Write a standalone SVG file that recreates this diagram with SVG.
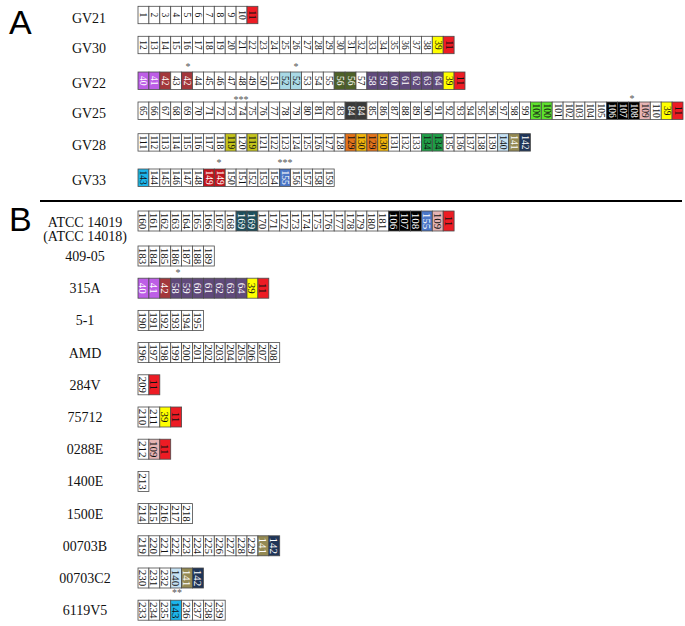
<svg xmlns="http://www.w3.org/2000/svg" width="685" height="626" viewBox="0 0 685 626">
<style>
rect{stroke:#4a4a4a;stroke-width:0.8;fill:#fff}
.r{fill:#ed1c24}.y{fill:#ffff00}.p1{fill:#bd5ee6}.dr{fill:#a3373b}.lb{fill:#a9d9e6}.og{fill:#4e6128}.pu{fill:#604a7b}.dg{fill:#3a3a3a}.gr{fill:#5ee22e}.bk{fill:#000}.pk{fill:#e6b4b4}.ol{fill:#c4c41c}.or{fill:#e3731a}.go{fill:#f2b50c}.gn{fill:#1f9e47}.lc{fill:#c6e2f4}.kh{fill:#948a54}.nv{fill:#1f3558}.cy{fill:#1cb5ea}.cr{fill:#c0141c}.bl{fill:#4a76c6}.tl{fill:#1e4e5c}
.t text{font-family:"Liberation Serif",serif;font-size:9.5px;text-anchor:middle;dominant-baseline:central;fill:#111}
.tb text{font-size:11px}
.t .w{fill:#fff}
.lab{font-family:"Liberation Serif",serif;font-size:14px;text-anchor:middle;fill:#111}
.big{font-family:"Liberation Sans",sans-serif;font-size:34px;fill:#000}
.ast{font-family:"Liberation Serif",serif;font-size:10px;fill:#555;text-anchor:middle}
</style>
<text class="big" x="9" y="34">A</text>
<text class="big" x="9" y="231">B</text>
<g id="connectors"><line x1="40" y1="201" x2="682" y2="201" stroke="#000" stroke-width="2"/></g>
<g id="asterisks">
<text class="ast" x="188" y="70">*</text>
<text class="ast" x="296" y="70">*</text>
<text class="ast" x="241" y="103">***</text>
<text class="ast" x="632" y="102">*</text>
<text class="ast" x="219" y="166">*</text>
<text class="ast" x="285" y="166">***</text>
<text class="ast" x="178" y="276">*</text>
<text class="ast" x="177" y="596">**</text>
</g>
<g id="labels">
<text class="lab" x="89" y="22.5">GV21</text>
<text class="lab" x="89" y="52.5">GV30</text>
<text class="lab" x="89" y="88">GV22</text>
<text class="lab" x="89" y="118">GV25</text>
<text class="lab" x="89" y="149.7">GV28</text>
<text class="lab" x="89" y="185">GV33</text>
<text class="lab" x="85" y="227">ATCC 14019</text>
<text class="lab" x="85" y="241">(ATCC 14018)</text>
<text class="lab" x="85" y="261">409-05</text>
<text class="lab" x="85" y="293.2">315A</text>
<text class="lab" x="85" y="325.4">5-1</text>
<text class="lab" x="85" y="357.6">AMD</text>
<text class="lab" x="85" y="389.8">284V</text>
<text class="lab" x="85" y="422">75712</text>
<text class="lab" x="85" y="454.2">0288E</text>
<text class="lab" x="85" y="486.4">1400E</text>
<text class="lab" x="85" y="518.6">1500E</text>
<text class="lab" x="85" y="550.8">00703B</text>
<text class="lab" x="85" y="583">00703C2</text>
<text class="lab" x="85" y="615.2">6119V5</text>
</g>

<g id="GV21" class="t" transform="translate(138,6.3)">
<rect x="0" width="10.9" height="17.4"/><rect x="10.9" width="10.9" height="17.4"/><rect x="21.8" width="10.9" height="17.4"/><rect x="32.7" width="10.9" height="17.4"/><rect x="43.6" width="10.9" height="17.4"/><rect x="54.5" width="10.9" height="17.4"/><rect x="65.4" width="10.9" height="17.4"/><rect x="76.3" width="10.9" height="17.4"/><rect x="87.2" width="10.9" height="17.4"/><rect x="98.1" width="10.9" height="17.4"/><rect class="r" x="109" width="10.9" height="17.4"/>
<g transform="rotate(90)">
<text x="8.7" y="-5.45">1</text><text x="8.7" y="-16.35">2</text><text x="8.7" y="-27.25">3</text><text x="8.7" y="-38.15">4</text><text x="8.7" y="-49.05">5</text><text x="8.7" y="-59.95">6</text><text x="8.7" y="-70.85">7</text><text x="8.7" y="-81.75">8</text><text x="8.7" y="-92.65">9</text><text x="8.7" y="-103.55">10</text><text x="8.7" y="-114.45">11</text>
</g></g>

<g id="GV30" class="t" transform="translate(138,36.3)">
<rect x="0" width="10.9" height="17.4"/><rect x="10.9" width="10.9" height="17.4"/><rect x="21.8" width="10.9" height="17.4"/><rect x="32.7" width="10.9" height="17.4"/><rect x="43.6" width="10.9" height="17.4"/><rect x="54.5" width="10.9" height="17.4"/><rect x="65.4" width="10.9" height="17.4"/><rect x="76.3" width="10.9" height="17.4"/><rect x="87.2" width="10.9" height="17.4"/><rect x="98.1" width="10.9" height="17.4"/><rect x="109" width="10.9" height="17.4"/><rect x="119.9" width="10.9" height="17.4"/><rect x="130.8" width="10.9" height="17.4"/><rect x="141.7" width="10.9" height="17.4"/><rect x="152.6" width="10.9" height="17.4"/><rect x="163.5" width="10.9" height="17.4"/><rect x="174.4" width="10.9" height="17.4"/><rect x="185.3" width="10.9" height="17.4"/><rect x="196.2" width="10.9" height="17.4"/><rect x="207.1" width="10.9" height="17.4"/><rect x="218" width="10.9" height="17.4"/><rect x="228.9" width="10.9" height="17.4"/><rect x="239.8" width="10.9" height="17.4"/><rect x="250.7" width="10.9" height="17.4"/><rect x="261.6" width="10.9" height="17.4"/><rect x="272.5" width="10.9" height="17.4"/><rect x="283.4" width="10.9" height="17.4"/><rect class="y" x="294.3" width="10.9" height="17.4"/><rect class="r" x="305.2" width="10.9" height="17.4"/>
<g transform="rotate(90)">
<text x="8.7" y="-5.45">12</text><text x="8.7" y="-16.35">13</text><text x="8.7" y="-27.25">14</text><text x="8.7" y="-38.15">15</text><text x="8.7" y="-49.05">16</text><text x="8.7" y="-59.95">17</text><text x="8.7" y="-70.85">18</text><text x="8.7" y="-81.75">19</text><text x="8.7" y="-92.65">20</text><text x="8.7" y="-103.55">21</text><text x="8.7" y="-114.45">22</text><text x="8.7" y="-125.35">23</text><text x="8.7" y="-136.25">24</text><text x="8.7" y="-147.15">25</text><text x="8.7" y="-158.05">26</text><text x="8.7" y="-168.95">27</text><text x="8.7" y="-179.85">28</text><text x="8.7" y="-190.75">29</text><text x="8.7" y="-201.65">30</text><text x="8.7" y="-212.55">31</text><text x="8.7" y="-223.45">32</text><text x="8.7" y="-234.35">33</text><text x="8.7" y="-245.25">34</text><text x="8.7" y="-256.15">35</text><text x="8.7" y="-267.05">36</text><text x="8.7" y="-277.95">37</text><text x="8.7" y="-288.85">38</text><text x="8.7" y="-299.75">39</text><text x="8.7" y="-310.65">11</text>
</g></g>

<g id="GV22" class="t" transform="translate(138,72)">
<rect class="p1" x="0" width="10.9" height="17.4"/><rect class="p1" x="10.9" width="10.9" height="17.4"/><rect class="dr" x="21.8" width="10.9" height="17.4"/><rect x="32.7" width="10.9" height="17.4"/><rect class="dr" x="43.6" width="10.9" height="17.4"/><rect x="54.5" width="10.9" height="17.4"/><rect x="65.4" width="10.9" height="17.4"/><rect x="76.3" width="10.9" height="17.4"/><rect x="87.2" width="10.9" height="17.4"/><rect x="98.1" width="10.9" height="17.4"/><rect x="109" width="10.9" height="17.4"/><rect x="119.9" width="10.9" height="17.4"/><rect x="130.8" width="10.9" height="17.4"/><rect class="lb" x="141.7" width="10.9" height="17.4"/><rect class="lb" x="152.6" width="10.9" height="17.4"/><rect x="163.5" width="10.9" height="17.4"/><rect x="174.4" width="10.9" height="17.4"/><rect x="185.3" width="10.9" height="17.4"/><rect class="og" x="196.2" width="10.9" height="17.4"/><rect class="og" x="207.1" width="10.9" height="17.4"/><rect x="218" width="10.9" height="17.4"/><rect class="pu" x="228.9" width="10.9" height="17.4"/><rect class="pu" x="239.8" width="10.9" height="17.4"/><rect class="pu" x="250.7" width="10.9" height="17.4"/><rect class="pu" x="261.6" width="10.9" height="17.4"/><rect class="pu" x="272.5" width="10.9" height="17.4"/><rect class="pu" x="283.4" width="10.9" height="17.4"/><rect class="pu" x="294.3" width="10.9" height="17.4"/><rect class="y" x="305.2" width="10.9" height="17.4"/><rect class="r" x="316.1" width="10.9" height="17.4"/>
<g transform="rotate(90)">
<text class="w" x="8.7" y="-5.45">40</text><text class="w" x="8.7" y="-16.35">41</text><text class="w" x="8.7" y="-27.25">42</text><text x="8.7" y="-38.15">43</text><text class="w" x="8.7" y="-49.05">42</text><text x="8.7" y="-59.95">44</text><text x="8.7" y="-70.85">45</text><text x="8.7" y="-81.75">46</text><text x="8.7" y="-92.65">47</text><text x="8.7" y="-103.55">48</text><text x="8.7" y="-114.45">49</text><text x="8.7" y="-125.35">50</text><text x="8.7" y="-136.25">51</text><text x="8.7" y="-147.15">52</text><text x="8.7" y="-158.05">52</text><text x="8.7" y="-168.95">53</text><text x="8.7" y="-179.85">54</text><text x="8.7" y="-190.75">55</text><text class="w" x="8.7" y="-201.65">56</text><text class="w" x="8.7" y="-212.55">56</text><text x="8.7" y="-223.45">57</text><text class="w" x="8.7" y="-234.35">58</text><text class="w" x="8.7" y="-245.25">59</text><text class="w" x="8.7" y="-256.15">60</text><text class="w" x="8.7" y="-267.05">61</text><text class="w" x="8.7" y="-277.95">62</text><text class="w" x="8.7" y="-288.85">63</text><text class="w" x="8.7" y="-299.75">64</text><text x="8.7" y="-310.65">39</text><text x="8.7" y="-321.55">11</text>
</g></g>

<g id="GV25" class="t" transform="translate(138,102)">
<rect x="0" width="10.9" height="17.4"/><rect x="10.9" width="10.9" height="17.4"/><rect x="21.8" width="10.9" height="17.4"/><rect x="32.7" width="10.9" height="17.4"/><rect x="43.6" width="10.9" height="17.4"/><rect x="54.5" width="10.9" height="17.4"/><rect x="65.4" width="10.9" height="17.4"/><rect x="76.3" width="10.9" height="17.4"/><rect x="87.2" width="10.9" height="17.4"/><rect x="98.1" width="10.9" height="17.4"/><rect x="109" width="10.9" height="17.4"/><rect x="119.9" width="10.9" height="17.4"/><rect x="130.8" width="10.9" height="17.4"/><rect x="141.7" width="10.9" height="17.4"/><rect x="152.6" width="10.9" height="17.4"/><rect x="163.5" width="10.9" height="17.4"/><rect x="174.4" width="10.9" height="17.4"/><rect x="185.3" width="10.9" height="17.4"/><rect x="196.2" width="10.9" height="17.4"/><rect class="dg" x="207.1" width="10.9" height="17.4"/><rect class="dg" x="218" width="10.9" height="17.4"/><rect x="228.9" width="10.9" height="17.4"/><rect x="239.8" width="10.9" height="17.4"/><rect x="250.7" width="10.9" height="17.4"/><rect x="261.6" width="10.9" height="17.4"/><rect x="272.5" width="10.9" height="17.4"/><rect x="283.4" width="10.9" height="17.4"/><rect x="294.3" width="10.9" height="17.4"/><rect x="305.2" width="10.9" height="17.4"/><rect x="316.1" width="10.9" height="17.4"/><rect x="327" width="10.9" height="17.4"/><rect x="337.9" width="10.9" height="17.4"/><rect x="348.8" width="10.9" height="17.4"/><rect x="359.7" width="10.9" height="17.4"/><rect x="370.6" width="10.9" height="17.4"/><rect x="381.5" width="10.9" height="17.4"/><rect class="gr" x="392.4" width="10.9" height="17.4"/><rect class="gr" x="403.3" width="10.9" height="17.4"/><rect x="414.2" width="10.9" height="17.4"/><rect x="425.1" width="10.9" height="17.4"/><rect x="436" width="10.9" height="17.4"/><rect x="446.9" width="10.9" height="17.4"/><rect x="457.8" width="10.9" height="17.4"/><rect class="bk" x="468.7" width="10.9" height="17.4"/><rect class="bk" x="479.6" width="10.9" height="17.4"/><rect class="bk" x="490.5" width="10.9" height="17.4"/><rect class="pk" x="501.4" width="10.9" height="17.4"/><rect x="512.3" width="10.9" height="17.4"/><rect class="y" x="523.2" width="10.9" height="17.4"/><rect class="r" x="534.1" width="10.9" height="17.4"/>
<g transform="rotate(90)">
<text x="8.7" y="-5.45">65</text><text x="8.7" y="-16.35">66</text><text x="8.7" y="-27.25">67</text><text x="8.7" y="-38.15">68</text><text x="8.7" y="-49.05">69</text><text x="8.7" y="-59.95">70</text><text x="8.7" y="-70.85">71</text><text x="8.7" y="-81.75">72</text><text x="8.7" y="-92.65">73</text><text x="8.7" y="-103.55">74</text><text x="8.7" y="-114.45">75</text><text x="8.7" y="-125.35">76</text><text x="8.7" y="-136.25">77</text><text x="8.7" y="-147.15">78</text><text x="8.7" y="-158.05">79</text><text x="8.7" y="-168.95">80</text><text x="8.7" y="-179.85">81</text><text x="8.7" y="-190.75">82</text><text x="8.7" y="-201.65">83</text><text class="w" x="8.7" y="-212.55">84</text><text class="w" x="8.7" y="-223.45">84</text><text x="8.7" y="-234.35">85</text><text x="8.7" y="-245.25">86</text><text x="8.7" y="-256.15">87</text><text x="8.7" y="-267.05">88</text><text x="8.7" y="-277.95">89</text><text x="8.7" y="-288.85">90</text><text x="8.7" y="-299.75">91</text><text x="8.7" y="-310.65">92</text><text x="8.7" y="-321.55">93</text><text x="8.7" y="-332.45">94</text><text x="8.7" y="-343.35">95</text><text x="8.7" y="-354.25">96</text><text x="8.7" y="-365.15">97</text><text x="8.7" y="-376.05">98</text><text x="8.7" y="-386.95">99</text><text x="8.7" y="-397.85">100</text><text x="8.7" y="-408.75">100</text><text x="8.7" y="-419.65">101</text><text x="8.7" y="-430.55">102</text><text x="8.7" y="-441.45">103</text><text x="8.7" y="-452.35">104</text><text x="8.7" y="-463.25">105</text><text class="w" x="8.7" y="-474.15">106</text><text class="w" x="8.7" y="-485.05">107</text><text class="w" x="8.7" y="-495.95">108</text><text x="8.7" y="-506.85">109</text><text x="8.7" y="-517.75">110</text><text x="8.7" y="-528.65">39</text><text x="8.7" y="-539.55">11</text>
</g></g>

<g id="GV28" class="t" transform="translate(138,133.7)">
<rect x="0" width="10.9" height="17.4"/><rect x="10.9" width="10.9" height="17.4"/><rect x="21.8" width="10.9" height="17.4"/><rect x="32.7" width="10.9" height="17.4"/><rect x="43.6" width="10.9" height="17.4"/><rect x="54.5" width="10.9" height="17.4"/><rect x="65.4" width="10.9" height="17.4"/><rect x="76.3" width="10.9" height="17.4"/><rect class="ol" x="87.2" width="10.9" height="17.4"/><rect x="98.1" width="10.9" height="17.4"/><rect class="ol" x="109" width="10.9" height="17.4"/><rect x="119.9" width="10.9" height="17.4"/><rect x="130.8" width="10.9" height="17.4"/><rect x="141.7" width="10.9" height="17.4"/><rect x="152.6" width="10.9" height="17.4"/><rect x="163.5" width="10.9" height="17.4"/><rect x="174.4" width="10.9" height="17.4"/><rect x="185.3" width="10.9" height="17.4"/><rect x="196.2" width="10.9" height="17.4"/><rect class="or" x="207.1" width="10.9" height="17.4"/><rect class="go" x="218" width="10.9" height="17.4"/><rect class="or" x="228.9" width="10.9" height="17.4"/><rect class="go" x="239.8" width="10.9" height="17.4"/><rect x="250.7" width="10.9" height="17.4"/><rect x="261.6" width="10.9" height="17.4"/><rect x="272.5" width="10.9" height="17.4"/><rect class="gn" x="283.4" width="10.9" height="17.4"/><rect class="gn" x="294.3" width="10.9" height="17.4"/><rect x="305.2" width="10.9" height="17.4"/><rect x="316.1" width="10.9" height="17.4"/><rect x="327" width="10.9" height="17.4"/><rect x="337.9" width="10.9" height="17.4"/><rect x="348.8" width="10.9" height="17.4"/><rect class="lc" x="359.7" width="10.9" height="17.4"/><rect class="kh" x="370.6" width="10.9" height="17.4"/><rect class="nv" x="381.5" width="10.9" height="17.4"/>
<g transform="rotate(90)">
<text x="8.7" y="-5.45">111</text><text x="8.7" y="-16.35">112</text><text x="8.7" y="-27.25">113</text><text x="8.7" y="-38.15">114</text><text x="8.7" y="-49.05">115</text><text x="8.7" y="-59.95">116</text><text x="8.7" y="-70.85">117</text><text x="8.7" y="-81.75">118</text><text x="8.7" y="-92.65">119</text><text x="8.7" y="-103.55">120</text><text x="8.7" y="-114.45">119</text><text x="8.7" y="-125.35">121</text><text x="8.7" y="-136.25">122</text><text x="8.7" y="-147.15">123</text><text x="8.7" y="-158.05">124</text><text x="8.7" y="-168.95">125</text><text x="8.7" y="-179.85">126</text><text x="8.7" y="-190.75">127</text><text x="8.7" y="-201.65">128</text><text x="8.7" y="-212.55">129</text><text x="8.7" y="-223.45">130</text><text x="8.7" y="-234.35">129</text><text x="8.7" y="-245.25">130</text><text x="8.7" y="-256.15">131</text><text x="8.7" y="-267.05">132</text><text x="8.7" y="-277.95">133</text><text x="8.7" y="-288.85">134</text><text x="8.7" y="-299.75">134</text><text x="8.7" y="-310.65">135</text><text x="8.7" y="-321.55">136</text><text x="8.7" y="-332.45">137</text><text x="8.7" y="-343.35">138</text><text x="8.7" y="-354.25">139</text><text x="8.7" y="-365.15">140</text><text class="w" x="8.7" y="-376.05">141</text><text class="w" x="8.7" y="-386.95">142</text>
</g></g>

<g id="GV33" class="t" transform="translate(138,169)">
<rect class="cy" x="0" width="10.9" height="17.4"/><rect x="10.9" width="10.9" height="17.4"/><rect x="21.8" width="10.9" height="17.4"/><rect x="32.7" width="10.9" height="17.4"/><rect x="43.6" width="10.9" height="17.4"/><rect x="54.5" width="10.9" height="17.4"/><rect class="cr" x="65.4" width="10.9" height="17.4"/><rect class="cr" x="76.3" width="10.9" height="17.4"/><rect x="87.2" width="10.9" height="17.4"/><rect x="98.1" width="10.9" height="17.4"/><rect x="109" width="10.9" height="17.4"/><rect x="119.9" width="10.9" height="17.4"/><rect x="130.8" width="10.9" height="17.4"/><rect class="bl" x="141.7" width="10.9" height="17.4"/><rect x="152.6" width="10.9" height="17.4"/><rect x="163.5" width="10.9" height="17.4"/><rect x="174.4" width="10.9" height="17.4"/><rect x="185.3" width="10.9" height="17.4"/>
<g transform="rotate(90)">
<text x="8.7" y="-5.45">143</text><text x="8.7" y="-16.35">144</text><text x="8.7" y="-27.25">145</text><text x="8.7" y="-38.15">146</text><text x="8.7" y="-49.05">147</text><text x="8.7" y="-59.95">148</text><text class="w" x="8.7" y="-70.85">149</text><text class="w" x="8.7" y="-81.75">149</text><text x="8.7" y="-92.65">150</text><text x="8.7" y="-103.55">151</text><text x="8.7" y="-114.45">152</text><text x="8.7" y="-125.35">153</text><text x="8.7" y="-136.25">154</text><text class="w" x="8.7" y="-147.15">155</text><text x="8.7" y="-158.05">156</text><text x="8.7" y="-168.95">157</text><text x="8.7" y="-179.85">158</text><text x="8.7" y="-190.75">159</text>
</g></g>

<g id="ATCC14019" class="t tb" transform="translate(138,211)">
<rect x="0" width="10.9" height="20"/><rect x="10.9" width="10.9" height="20"/><rect x="21.8" width="10.9" height="20"/><rect x="32.7" width="10.9" height="20"/><rect x="43.6" width="10.9" height="20"/><rect x="54.5" width="10.9" height="20"/><rect x="65.4" width="10.9" height="20"/><rect x="76.3" width="10.9" height="20"/><rect x="87.2" width="10.9" height="20"/><rect class="tl" x="98.1" width="10.9" height="20"/><rect class="tl" x="109" width="10.9" height="20"/><rect x="119.9" width="10.9" height="20"/><rect x="130.8" width="10.9" height="20"/><rect x="141.7" width="10.9" height="20"/><rect x="152.6" width="10.9" height="20"/><rect x="163.5" width="10.9" height="20"/><rect x="174.4" width="10.9" height="20"/><rect x="185.3" width="10.9" height="20"/><rect x="196.2" width="10.9" height="20"/><rect x="207.1" width="10.9" height="20"/><rect x="218" width="10.9" height="20"/><rect x="228.9" width="10.9" height="20"/><rect x="239.8" width="10.9" height="20"/><rect class="bk" x="250.7" width="10.9" height="20"/><rect class="bk" x="261.6" width="10.9" height="20"/><rect class="bk" x="272.5" width="10.9" height="20"/><rect class="bl" x="283.4" width="10.9" height="20"/><rect class="pk" x="294.3" width="10.9" height="20"/><rect class="r" x="305.2" width="10.9" height="20"/>
<g transform="rotate(90)">
<text x="10" y="-5.45">160</text><text x="10" y="-16.35">161</text><text x="10" y="-27.25">162</text><text x="10" y="-38.15">163</text><text x="10" y="-49.05">164</text><text x="10" y="-59.95">165</text><text x="10" y="-70.85">166</text><text x="10" y="-81.75">167</text><text x="10" y="-92.65">168</text><text class="w" x="10" y="-103.55">169</text><text class="w" x="10" y="-114.45">169</text><text x="10" y="-125.35">170</text><text x="10" y="-136.25">171</text><text x="10" y="-147.15">172</text><text x="10" y="-158.05">173</text><text x="10" y="-168.95">174</text><text x="10" y="-179.85">175</text><text x="10" y="-190.75">176</text><text x="10" y="-201.65">177</text><text x="10" y="-212.55">178</text><text x="10" y="-223.45">179</text><text x="10" y="-234.35">180</text><text x="10" y="-245.25">181</text><text class="w" x="10" y="-256.15">106</text><text class="w" x="10" y="-267.05">107</text><text class="w" x="10" y="-277.95">108</text><text class="w" x="10" y="-288.85">155</text><text x="10" y="-299.75">109</text><text x="10" y="-310.65">11</text>
</g></g>

<g id="s409-05" class="t tb" transform="translate(138,246)">
<rect x="0" width="10.9" height="20"/><rect x="10.9" width="10.9" height="20"/><rect x="21.8" width="10.9" height="20"/><rect x="32.7" width="10.9" height="20"/><rect x="43.6" width="10.9" height="20"/><rect x="54.5" width="10.9" height="20"/><rect x="65.4" width="10.9" height="20"/>
<g transform="rotate(90)">
<text x="10" y="-5.45">183</text><text x="10" y="-16.35">184</text><text x="10" y="-27.25">185</text><text x="10" y="-38.15">186</text><text x="10" y="-49.05">187</text><text x="10" y="-59.95">188</text><text x="10" y="-70.85">189</text>
</g></g>

<g id="s315A" class="t tb" transform="translate(138,278.2)">
<rect class="p1" x="0" width="10.9" height="20"/><rect class="p1" x="10.9" width="10.9" height="20"/><rect class="dr" x="21.8" width="10.9" height="20"/><rect class="pu" x="32.7" width="10.9" height="20"/><rect class="pu" x="43.6" width="10.9" height="20"/><rect class="pu" x="54.5" width="10.9" height="20"/><rect class="pu" x="65.4" width="10.9" height="20"/><rect class="pu" x="76.3" width="10.9" height="20"/><rect class="pu" x="87.2" width="10.9" height="20"/><rect class="pu" x="98.1" width="10.9" height="20"/><rect class="y" x="109" width="10.9" height="20"/><rect class="r" x="119.9" width="10.9" height="20"/>
<g transform="rotate(90)">
<text class="w" x="10" y="-5.45">40</text><text class="w" x="10" y="-16.35">41</text><text class="w" x="10" y="-27.25">42</text><text class="w" x="10" y="-38.15">58</text><text class="w" x="10" y="-49.05">59</text><text class="w" x="10" y="-59.95">60</text><text class="w" x="10" y="-70.85">61</text><text class="w" x="10" y="-81.75">62</text><text class="w" x="10" y="-92.65">63</text><text class="w" x="10" y="-103.55">64</text><text x="10" y="-114.45">39</text><text x="10" y="-125.35">11</text>
</g></g>

<g id="s5-1" class="t tb" transform="translate(138,310.4)">
<rect x="0" width="10.9" height="20"/><rect x="10.9" width="10.9" height="20"/><rect x="21.8" width="10.9" height="20"/><rect x="32.7" width="10.9" height="20"/><rect x="43.6" width="10.9" height="20"/><rect x="54.5" width="10.9" height="20"/>
<g transform="rotate(90)">
<text x="10" y="-5.45">190</text><text x="10" y="-16.35">191</text><text x="10" y="-27.25">192</text><text x="10" y="-38.15">193</text><text x="10" y="-49.05">194</text><text x="10" y="-59.95">195</text>
</g></g>

<g id="sAMD" class="t tb" transform="translate(138,342.6)">
<rect x="0" width="10.9" height="20"/><rect x="10.9" width="10.9" height="20"/><rect x="21.8" width="10.9" height="20"/><rect x="32.7" width="10.9" height="20"/><rect x="43.6" width="10.9" height="20"/><rect x="54.5" width="10.9" height="20"/><rect x="65.4" width="10.9" height="20"/><rect x="76.3" width="10.9" height="20"/><rect x="87.2" width="10.9" height="20"/><rect x="98.1" width="10.9" height="20"/><rect x="109" width="10.9" height="20"/><rect x="119.9" width="10.9" height="20"/><rect x="130.8" width="10.9" height="20"/>
<g transform="rotate(90)">
<text x="10" y="-5.45">196</text><text x="10" y="-16.35">197</text><text x="10" y="-27.25">198</text><text x="10" y="-38.15">199</text><text x="10" y="-49.05">200</text><text x="10" y="-59.95">201</text><text x="10" y="-70.85">202</text><text x="10" y="-81.75">203</text><text x="10" y="-92.65">204</text><text x="10" y="-103.55">205</text><text x="10" y="-114.45">206</text><text x="10" y="-125.35">207</text><text x="10" y="-136.25">208</text>
</g></g>

<g id="s284V" class="t tb" transform="translate(138,374.8)">
<rect x="0" width="10.9" height="20"/><rect class="r" x="10.9" width="10.9" height="20"/>
<g transform="rotate(90)">
<text x="10" y="-5.45">209</text><text x="10" y="-16.35">11</text>
</g></g>

<g id="s75712" class="t tb" transform="translate(138,407)">
<rect x="0" width="10.9" height="20"/><rect x="10.9" width="10.9" height="20"/><rect class="y" x="21.8" width="10.9" height="20"/><rect class="r" x="32.7" width="10.9" height="20"/>
<g transform="rotate(90)">
<text x="10" y="-5.45">210</text><text x="10" y="-16.35">211</text><text x="10" y="-27.25">39</text><text x="10" y="-38.15">11</text>
</g></g>

<g id="s0288E" class="t tb" transform="translate(138,439.2)">
<rect x="0" width="10.9" height="20"/><rect class="pk" x="10.9" width="10.9" height="20"/><rect class="r" x="21.8" width="10.9" height="20"/>
<g transform="rotate(90)">
<text x="10" y="-5.45">212</text><text x="10" y="-16.35">109</text><text x="10" y="-27.25">11</text>
</g></g>

<g id="s1400E" class="t tb" transform="translate(138,471.4)">
<rect x="0" width="10.9" height="20"/>
<g transform="rotate(90)">
<text x="10" y="-5.45">213</text>
</g></g>

<g id="s1500E" class="t tb" transform="translate(138,503.6)">
<rect x="0" width="10.9" height="20"/><rect x="10.9" width="10.9" height="20"/><rect x="21.8" width="10.9" height="20"/><rect x="32.7" width="10.9" height="20"/><rect x="43.6" width="10.9" height="20"/>
<g transform="rotate(90)">
<text x="10" y="-5.45">214</text><text x="10" y="-16.35">215</text><text x="10" y="-27.25">216</text><text x="10" y="-38.15">217</text><text x="10" y="-49.05">218</text>
</g></g>

<g id="s00703B" class="t tb" transform="translate(138,535.8)">
<rect x="0" width="10.9" height="20"/><rect x="10.9" width="10.9" height="20"/><rect x="21.8" width="10.9" height="20"/><rect x="32.7" width="10.9" height="20"/><rect x="43.6" width="10.9" height="20"/><rect x="54.5" width="10.9" height="20"/><rect x="65.4" width="10.9" height="20"/><rect x="76.3" width="10.9" height="20"/><rect x="87.2" width="10.9" height="20"/><rect x="98.1" width="10.9" height="20"/><rect x="109" width="10.9" height="20"/><rect class="kh" x="119.9" width="10.9" height="20"/><rect class="nv" x="130.8" width="10.9" height="20"/>
<g transform="rotate(90)">
<text x="10" y="-5.45">219</text><text x="10" y="-16.35">220</text><text x="10" y="-27.25">221</text><text x="10" y="-38.15">222</text><text x="10" y="-49.05">223</text><text x="10" y="-59.95">224</text><text x="10" y="-70.85">225</text><text x="10" y="-81.75">226</text><text x="10" y="-92.65">227</text><text x="10" y="-103.55">228</text><text x="10" y="-114.45">229</text><text class="w" x="10" y="-125.35">141</text><text class="w" x="10" y="-136.25">142</text>
</g></g>

<g id="s00703C2" class="t tb" transform="translate(138,568)">
<rect x="0" width="10.9" height="20"/><rect x="10.9" width="10.9" height="20"/><rect x="21.8" width="10.9" height="20"/><rect class="lc" x="32.7" width="10.9" height="20"/><rect class="kh" x="43.6" width="10.9" height="20"/><rect class="nv" x="54.5" width="10.9" height="20"/>
<g transform="rotate(90)">
<text x="10" y="-5.45">230</text><text x="10" y="-16.35">231</text><text x="10" y="-27.25">232</text><text x="10" y="-38.15">140</text><text class="w" x="10" y="-49.05">141</text><text class="w" x="10" y="-59.95">142</text>
</g></g>

<g id="s6119V5" class="t tb" transform="translate(138,600.2)">
<rect x="0" width="10.9" height="20"/><rect x="10.9" width="10.9" height="20"/><rect x="21.8" width="10.9" height="20"/><rect class="cy" x="32.7" width="10.9" height="20"/><rect x="43.6" width="10.9" height="20"/><rect x="54.5" width="10.9" height="20"/><rect x="65.4" width="10.9" height="20"/><rect x="76.3" width="10.9" height="20"/>
<g transform="rotate(90)">
<text x="10" y="-5.45">233</text><text x="10" y="-16.35">234</text><text x="10" y="-27.25">235</text><text x="10" y="-38.15">143</text><text x="10" y="-49.05">236</text><text x="10" y="-59.95">237</text><text x="10" y="-70.85">238</text><text x="10" y="-81.75">239</text>
</g></g>
</svg>
